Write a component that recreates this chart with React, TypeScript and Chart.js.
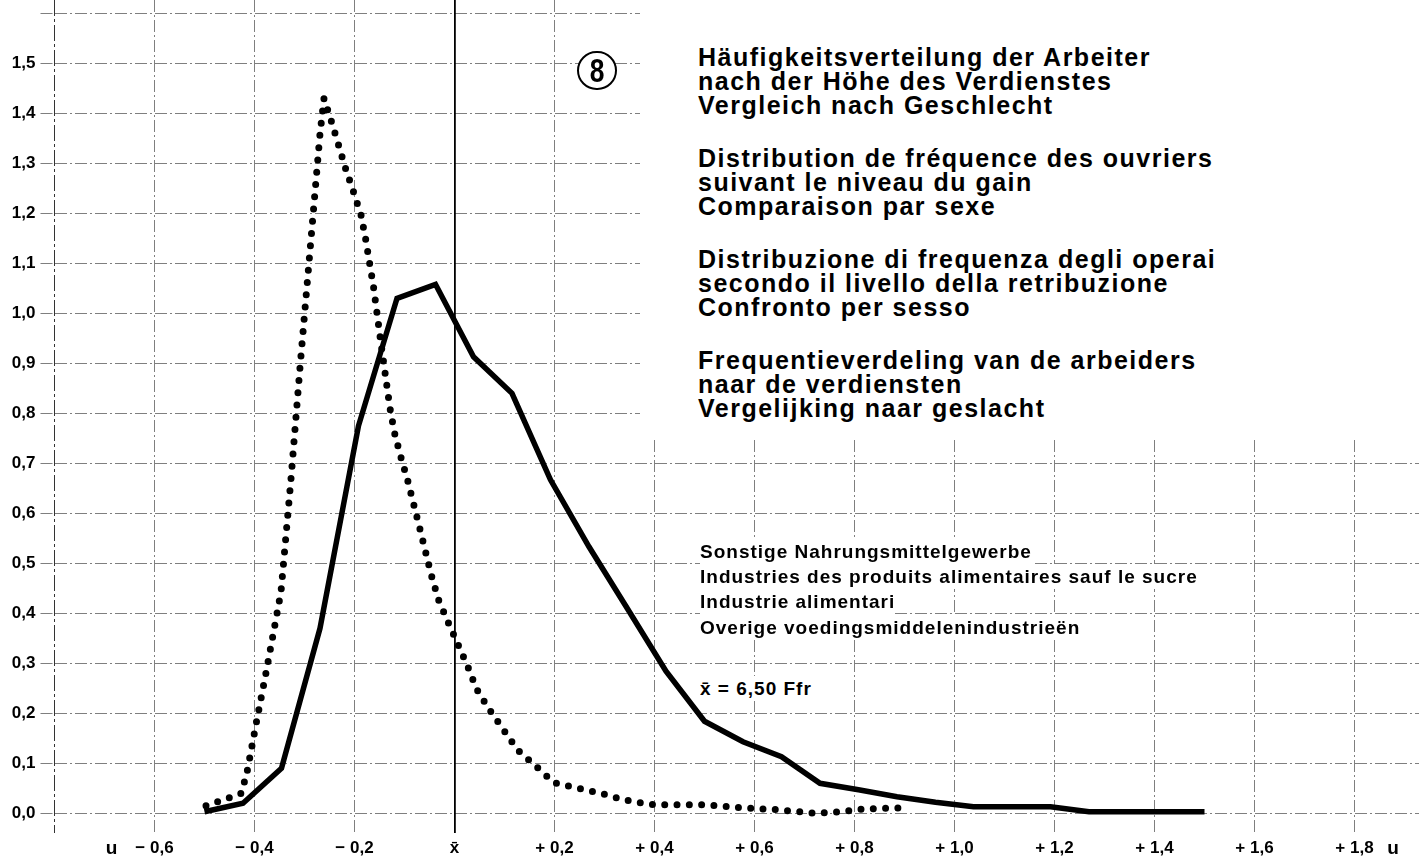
import React, { useEffect, useRef } from "react";
import { Chart, registerables } from "chart.js";

Chart.register(...registerables);

// class midpoints, expressed as u = (x - x̄) / x̄
const classU = [
  -0.5, -0.423, -0.346, -0.269, -0.192, -0.115, -0.038, 0.038, 0.115, 0.192,
  0.269, 0.346, 0.423, 0.5, 0.577, 0.654, 0.731, 0.808, 0.885, 0.962, 1.038,
  1.115, 1.192, 1.269, 1.346, 1.423, 1.5,
];
// solid curve (relative frequency)
const solidFreq = [
  0.003, 0.02, 0.09, 0.37, 0.775, 1.03, 1.058, 0.913, 0.84, 0.667, 0.533,
  0.409, 0.284, 0.184, 0.143, 0.113, 0.06, 0.047, 0.033, 0.022, 0.013, 0.013,
  0.013, 0.003, 0.003, 0.003, 0.003,
];
// dotted curve
const dottedU = [
  -0.497, -0.45, -0.426, -0.414, -0.396, -0.377, -0.359, -0.347, -0.327,
  -0.309, -0.288, -0.269, -0.261, -0.246, -0.232, -0.218, -0.202, -0.187,
  -0.178, -0.162, -0.146, -0.129, -0.12, -0.108, -0.094, -0.07, -0.046,
  -0.032, -0.014, 0.006, 0.026, 0.044, 0.068, 0.098, 0.126, 0.162, 0.199,
  0.244, 0.292, 0.339, 0.388, 0.432, 0.504, 0.578, 0.648, 0.72, 0.768, 0.814,
  0.891,
];
const dottedFreq = [
  0.015, 0.031, 0.04, 0.087, 0.183, 0.281, 0.378, 0.443, 0.669, 0.892, 1.137,
  1.359, 1.43, 1.383, 1.337, 1.29, 1.243, 1.197, 1.15, 1.053, 0.932, 0.81,
  0.761, 0.715, 0.667, 0.572, 0.475, 0.427, 0.385, 0.34, 0.295, 0.249, 0.21,
  0.167, 0.127, 0.095, 0.061, 0.051, 0.04, 0.027, 0.018, 0.017, 0.017, 0.011,
  0.007, 0.0, 0.003, 0.008, 0.011,
];

const xTickValues = [-0.8, -0.6, -0.4, -0.2, 0, 0.2, 0.4, 0.6, 0.8, 1.0, 1.2, 1.4, 1.6, 1.8];
const xTickLabels = [
  "", "− 0,6", "− 0,4", "− 0,2", "x̄", "+ 0,2", "+ 0,4", "+ 0,6", "+ 0,8",
  "+ 1,0", "+ 1,2", "+ 1,4", "+ 1,6", "+ 1,8",
];
const yTickValues = [0, 0.1, 0.2, 0.3, 0.4, 0.5, 0.6, 0.7, 0.8, 0.9, 1.0, 1.1, 1.2, 1.3, 1.4, 1.5, 1.6];
const yTickLabels = [
  "0,0", "0,1", "0,2", "0,3", "0,4", "0,5", "0,6", "0,7", "0,8", "0,9",
  "1,0", "1,1", "1,2", "1,3", "1,4", "1,5", "",
];

const titleBlocks = [
  ["Häufigkeitsverteilung der Arbeiter", "nach der Höhe des Verdienstes", "Vergleich nach Geschlecht"],
  ["Distribution de fréquence des ouvriers", "suivant le niveau du gain", "Comparaison par sexe"],
  ["Distribuzione di frequenza degli operai", "secondo il livello della retribuzione", "Confronto per sesso"],
  ["Frequentieverdeling van de arbeiders", "naar de verdiensten", "Vergelijking naar geslacht"],
];
const industryLines = [
  "Sonstige Nahrungsmittelgewerbe",
  "Industries des produits alimentaires sauf le sucre",
  "Industrie alimentari",
  "Overige voedingsmiddelenindustrieën",
];
const meanLabel = "x̄ = 6,50 Ffr";
const chartNumber = "8";
const axisUnit = "u";

const FONT = "'Liberation Sans', Arial, Helvetica, sans-serif";
const W = 1419;
const H = 867;

export default function App() {
  const ref = useRef<HTMLCanvasElement | null>(null);

  useEffect(() => {
    const canvas = ref.current;
    if (!canvas) return;
    const tickFont = { family: FONT, size: 17, weight: "bold" as const };
    const gridDash = [12, 3, 2, 3];
    const gridColor = "rgba(0,0,0,0.5)";
    const chart = new Chart(canvas, {
      type: "line",
      data: {
        datasets: [
          {
            label: "solid",
            data: classU.map((u, i) => ({ x: u, y: solidFreq[i] })),
            borderColor: "#000",
            borderWidth: 5.5,
            pointRadius: 0,
            tension: 0,
            fill: false,
            borderJoinStyle: "miter",
            borderCapStyle: "butt",
          },
          {
            label: "dotted",
            data: dottedU.map((u, i) => ({ x: u, y: dottedFreq[i] })),
            borderColor: "#000",
            borderWidth: 7,
            borderDash: [0, 12.3],
            borderCapStyle: "round",
            borderJoinStyle: "round",
            pointRadius: 0,
            tension: 0,
            fill: false,
          },
        ],
      },
      options: {
        animation: false,
        responsive: false,
        devicePixelRatio: 1,
        layout: { padding: 0 },
        plugins: {
          legend: { display: false },
          tooltip: { enabled: false },
          title: { display: false },
        },
        scales: {
          x: {
            type: "linear",
            min: -0.8,
            max: 1.929,
            afterFit: (s: any) => {
              s.height = 34;
              s.paddingLeft = 0;
              s.paddingRight = 0;
            },
            afterBuildTicks: (s: any) => {
              s.ticks = xTickValues.map((v) => ({ value: v }));
            },
            ticks: {
              autoSkip: false,
              maxRotation: 0,
              padding: 5,
              color: "#000",
              font: tickFont,
              callback: (_v: any, i: number) => xTickLabels[i] ?? "",
            },
            grid: {
              drawTicks: false,
              color: (ctx: any) => (ctx.index === 4 ? "#000" : ctx.index === 0 ? "rgba(0,0,0,0.8)" : gridColor),
              lineWidth: (ctx: any) => (ctx.index === 4 ? 1.8 : 1),
            },
            border: {
              display: false,
              dash: (ctx: any) => (ctx.index === 4 ? [] : ctx.index === 0 ? [16, 3, 3, 3] : gridDash),
            },
          },
          y: {
            type: "linear",
            min: -0.0394,
            max: 1.6266,
            afterFit: (s: any) => {
              s.width = 54.5;
              s.paddingTop = 0;
              s.paddingBottom = 0;
            },
            afterBuildTicks: (s: any) => {
              s.ticks = yTickValues.map((v) => ({ value: v }));
            },
            ticks: {
              autoSkip: false,
              padding: 5,
              color: "#000",
              font: tickFont,
              callback: (_v: any, i: number) => yTickLabels[i] ?? "",
            },
            grid: {
              drawTicks: true,
              tickLength: 14,
              color: gridColor,
              tickColor: gridColor,
              tickBorderDash: gridDash,
              lineWidth: 1,
            },
            border: { display: false, dash: gridDash },
          },
        },
      },
    } as any);
    return () => chart.destroy();
  }, []);

  const titleStyle: React.CSSProperties = {
    position: "absolute",
    left: 698,
    fontFamily: FONT,
    fontWeight: 700,
    fontSize: "25px",
    lineHeight: "24px",
    letterSpacing: "1.5px",
    color: "#000",
    whiteSpace: "nowrap",
  };
  const subStyle: React.CSSProperties = {
    position: "absolute",
    left: 700,
    fontFamily: FONT,
    fontWeight: 700,
    fontSize: "19px",
    lineHeight: "25.3px",
    letterSpacing: "1px",
    color: "#000",
    whiteSpace: "nowrap",
  };
  const lineBg: React.CSSProperties = { background: "#fff", display: "inline-block" };
  const unitStyle: React.CSSProperties = {
    position: "absolute",
    width: 20,
    textAlign: "center",
    fontFamily: FONT,
    fontWeight: 700,
    fontSize: "19px",
    lineHeight: "18px",
    color: "#000",
    top: 838.5,
  };

  return (
    <div style={{ position: "absolute", left: 0, top: 0, width: W, height: H, background: "#fff", overflow: "hidden" }}>
      <canvas ref={ref} width={W} height={H} style={{ position: "absolute", left: 0, top: 0, width: W, height: H }} />
      {/* blank paper area behind the multilingual title */}
      <div style={{ position: "absolute", left: 640, top: 0, width: W - 640, height: 438, background: "#fff" }} />
      {titleBlocks.map((lines, k) => (
        <div key={k} style={{ ...titleStyle, top: 45.3 + 101 * k }}>
          {lines.map((l, j) => (
            <div key={j}>{l}</div>
          ))}
        </div>
      ))}
      <div style={{ ...subStyle, top: 538.8 }}>
        {industryLines.map((l, j) => (
          <div key={j}>
            <span style={lineBg}>{l}</span>
          </div>
        ))}
      </div>
      <div style={{ ...subStyle, top: 675.8 }}>
        <span style={lineBg}>{meanLabel}</span>
      </div>
      <div
        style={{
          position: "absolute",
          left: 577,
          top: 50.5,
          width: 39.5,
          height: 39.5,
          boxSizing: "border-box",
          border: "2.2px solid #000",
          borderRadius: "50%",
          background: "#fff",
          display: "flex",
          alignItems: "center",
          justifyContent: "center",
          fontFamily: FONT,
          fontWeight: 700,
          fontSize: "33px",
          lineHeight: "33px",
          color: "#000",
        }}
      >
        <span style={{ display: "inline-block", transform: "scaleX(0.8)" }}>{chartNumber}</span>
      </div>
      <div style={{ ...unitStyle, left: 101.5 }}>{axisUnit}</div>
      <div style={{ ...unitStyle, left: 1383 }}>{axisUnit}</div>
    </div>
  );
}
